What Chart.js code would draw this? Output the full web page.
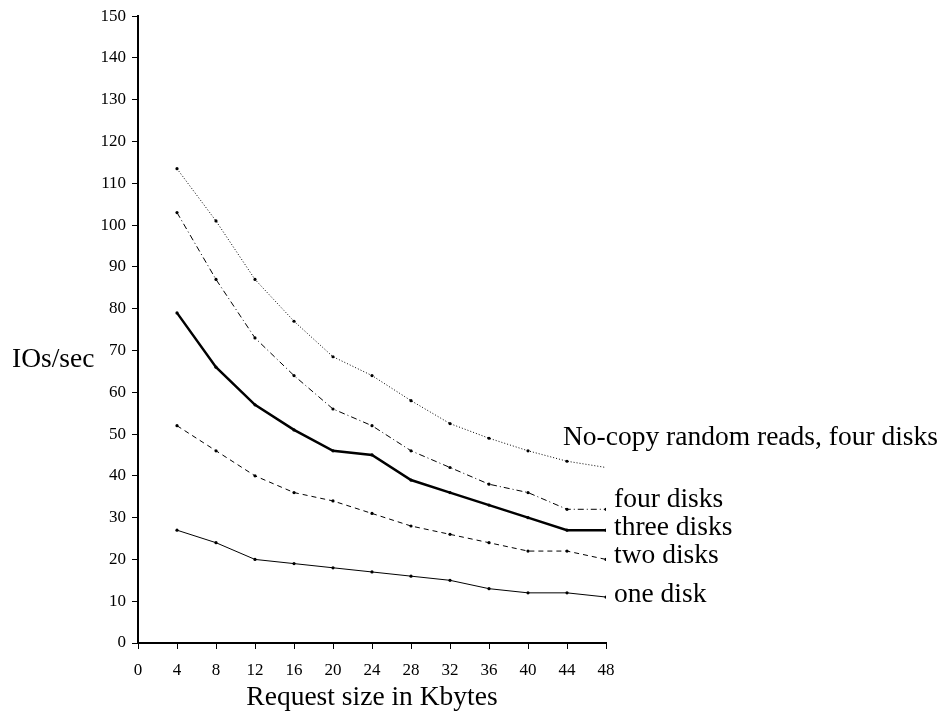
<!DOCTYPE html>
<html>
<head>
<meta charset="utf-8">
<script src="https://cdn.jsdelivr.net/npm/chart.js@4/dist/chart.umd.min.js"></script>
<style>
  html, body { margin: 0; padding: 0; background: #fff; }
  #wrap { width: 943px; height: 714px; }
</style>
</head>
<body>
<div id="wrap"><canvas id="chart" width="943" height="714"></canvas></div>
<script>
const sizes = [4, 8, 12, 16, 20, 24, 28, 32, 36, 40, 44, 48];

const one_disk = [27, 24, 20, 19, 18, 17, 16, 15, 13, 12, 12, 11];
const two_disks = [52, 46, 40, 36, 34, 31, 28, 26, 24, 22, 22, 20];
const three_disks = [79, 66, 57, 51, 46, 45, 39, 36, 33, 30, 27, 27];
const four_disks = [103, 87, 73, 64, 56, 52, 46, 42, 38, 36, 32, 32];
const nocopy_four = [113.5, 101, 87, 77, 68.5, 64, 58, 52.5, 49, 46, 43.5, 42];

const series_names = ['one disk', 'two disks', 'three disks', 'four disks', 'No-copy random reads, four disks'];

const serif = '"Liberation Serif", "Times New Roman", serif';

function points(values) {
    return values.map((v, i) => ({ x: sizes[i], y: v }));
}

// line style per series
const styles = [
    { dash: [], width: 1 },
    { dash: [5, 4], width: 1 },
    { dash: [], width: 2.5 },
    { dash: [6, 3, 1, 3], width: 1 },
    { dash: [1, 2], width: 1 },
];
// label offsets from the last point (px)
const label_offsets = [
    { dx: 8, dy: 5 },
    { dx: 8, dy: 4 },
    { dx: 8, dy: 5 },
    { dx: 8, dy: -2 },
    { dx: -43, dy: -22 },
];

const all_values = [one_disk, two_disks, three_disks, four_disks, nocopy_four];

const end_labels = {
    id: 'end_labels',
    afterDatasetsDraw(chart) {
        const { ctx, chartArea, scales: { x, y } } = chart;
        ctx.save();
        ctx.fillStyle = '#000';
        ctx.font = '27.5px ' + serif;
        ctx.textBaseline = 'alphabetic';
        ctx.textAlign = 'left';
        all_values.forEach((vals, i) => {
            const px = x.getPixelForValue(sizes[sizes.length - 1]);
            const py = y.getPixelForValue(vals[vals.length - 1]);
            ctx.fillText(series_names[i], px + label_offsets[i].dx, py + label_offsets[i].dy);
        });
        // axis titles
        ctx.fillText('IOs/sec', 12, 367);
        ctx.textAlign = 'center';
        ctx.fillText('Request size in Kbytes', (chartArea.left + chartArea.right) / 2, 705);
        ctx.restore();
    }
};

new Chart(document.getElementById('chart').getContext('2d'), {
    type: 'line',
    data: {
        datasets: all_values.map((vals, i) => ({
            label: series_names[i],
            data: points(vals),
            borderColor: '#000',
            borderWidth: styles[i].width,
            borderDash: styles[i].dash,
            pointRadius: vals.map((v, j) => (i == 4 && j == vals.length - 1) ? 0 : 1.6),
            pointBackgroundColor: '#000',
            pointBorderWidth: 0,
            fill: false,
            tension: 0
        }))
    },
    options: {
        responsive: false,
        animation: false,
        layout: { padding: { left: 0, right: 337, top: 16, bottom: 0 } },
        plugins: {
            legend: { display: false },
            tooltip: { enabled: false },
        },
        scales: {
            x: {
                type: 'linear',
                min: 0,
                max: 48,
                ticks: { stepSize: 4, color: '#000', font: { family: serif, size: 17 }, padding: 11, maxRotation: 0 },
                grid: { drawOnChartArea: false, color: '#000', tickLength: 6 },
                border: { color: '#000', width: 2 },
                afterFit(scale) { scale.height = 71; }
            },
            y: {
                min: 0,
                max: 150,
                ticks: { stepSize: 10, color: '#000', font: { family: serif, size: 17 }, padding: 6 },
                grid: { drawOnChartArea: false, color: '#000', tickLength: 6 },
                border: { color: '#000', width: 2 },
                afterFit(scale) { scale.width = 138; }
            }
        }
    },
    plugins: [end_labels]
});
</script>
</body>
</html>
